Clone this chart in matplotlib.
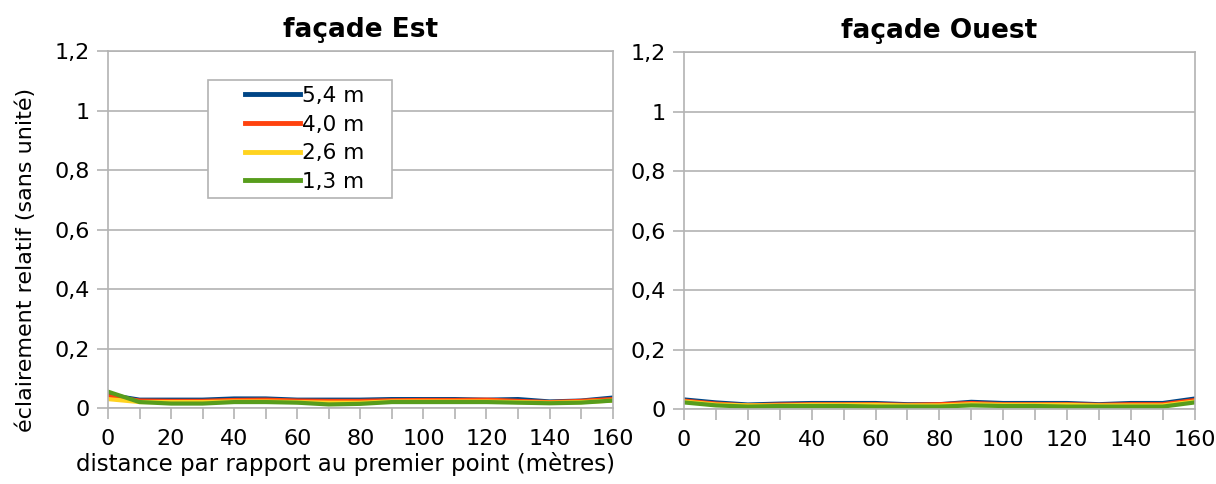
import matplotlib
matplotlib.use('Agg')
import matplotlib.pyplot as plt
from matplotlib.patches import Rectangle
from matplotlib.ticker import FuncFormatter, MultipleLocator

plt.rcParams['font.family'] = ['DejaVu Sans']

# distances (m)
x = [0, 10, 20, 30, 40, 50, 60, 70, 80, 90, 100, 110, 120, 130, 140, 150, 160]
hauteurs = ['5,4 m', '4,0 m', '2,6 m', '1,3 m']
couleurs = ['#004586', '#ff420e', '#ffd320', '#579d1c']

# façade Est
est_54 = [0.045, 0.028, 0.028, 0.028, 0.032, 0.032, 0.028, 0.028, 0.028, 0.030, 0.030, 0.030, 0.028, 0.030, 0.022, 0.025, 0.035]
est_40 = [0.040, 0.025, 0.024, 0.024, 0.027, 0.028, 0.025, 0.024, 0.024, 0.026, 0.027, 0.027, 0.028, 0.024, 0.020, 0.024, 0.030]
est_26 = [0.030, 0.020, 0.020, 0.020, 0.022, 0.022, 0.020, 0.018, 0.018, 0.022, 0.022, 0.022, 0.022, 0.020, 0.018, 0.020, 0.025]
est_13 = [0.055, 0.020, 0.015, 0.015, 0.020, 0.020, 0.018, 0.012, 0.014, 0.020, 0.020, 0.020, 0.020, 0.018, 0.016, 0.018, 0.025]

# façade Ouest
ouest_54 = [0.032, 0.022, 0.015, 0.018, 0.020, 0.020, 0.020, 0.016, 0.016, 0.024, 0.020, 0.020, 0.020, 0.016, 0.020, 0.020, 0.035]
ouest_40 = [0.028, 0.018, 0.012, 0.015, 0.016, 0.016, 0.016, 0.014, 0.016, 0.020, 0.016, 0.016, 0.016, 0.014, 0.016, 0.016, 0.030]
ouest_26 = [0.025, 0.015, 0.012, 0.012, 0.014, 0.014, 0.014, 0.012, 0.012, 0.016, 0.014, 0.014, 0.014, 0.012, 0.012, 0.012, 0.025]
ouest_13 = [0.022, 0.012, 0.008, 0.010, 0.010, 0.010, 0.008, 0.008, 0.008, 0.012, 0.010, 0.010, 0.008, 0.008, 0.008, 0.008, 0.022]

gris = '#b3b3b3'
virgule = FuncFormatter(lambda v, p: f'{v:g}'.replace('.', ','))

fig = plt.figure(figsize=(12.16, 4.84), dpi=100)
ax1 = fig.add_axes([0.0888, 0.157, 0.415, 0.737])
ax2 = fig.add_axes([0.5625, 0.155, 0.420, 0.737])

for ax, series, titre in [(ax1, [est_54, est_40, est_26, est_13], 'façade Est'),
                          (ax2, [ouest_54, ouest_40, ouest_26, ouest_13], 'façade Ouest')]:
    for y, c, lab in zip(series, couleurs, hauteurs):
        ax.plot(x, y, color=c, lw=3, label=lab)
    ax.set_xlim(0, 160)
    ax.set_ylim(0, 1.2)
    ax.xaxis.set_major_locator(MultipleLocator(20))
    ax.xaxis.set_minor_locator(MultipleLocator(10))
    ax.yaxis.set_major_locator(MultipleLocator(0.2))
    ax.xaxis.set_major_formatter(virgule)
    ax.yaxis.set_major_formatter(virgule)
    ax.grid(axis='y', color=gris, lw=1.2)
    ax.set_axisbelow(True)
    for s in ax.spines.values():
        s.set_color(gris)
        s.set_linewidth(1.2)
    ax.tick_params(which='both', color=gris, width=1.2, labelsize=16)
    ax.tick_params(axis='x', which='both', length=8, pad=7)
    ax.tick_params(axis='y', length=8, pad=5)
    ax.set_title(titre, fontsize=19, fontweight='bold', pad=10)

ax1.set_ylabel('éclairement relatif (sans unité)', fontsize=16)
ax1.yaxis.set_label_coords(-0.142, 0.415)
ax1.set_xlabel('distance par rapport au premier point (mètres)', fontsize=16.5)
ax1.xaxis.set_label_coords(0.47, -0.122)

# cadre de la légende
ax1.add_patch(Rectangle((0.198, 0.588), 0.364, 0.331, transform=ax1.transAxes,
                        facecolor='white', edgecolor=gris, lw=1.2, zorder=4))
leg = ax1.legend(loc='upper left', bbox_to_anchor=(0.262, 0.915), fontsize=15.5,
                 handlelength=2.6, handletextpad=0.05, labelspacing=0.4,
                 borderpad=0.2, borderaxespad=0, frameon=False)
leg.set_zorder(5)
for h in leg.get_lines():
    h.set_linewidth(3.5)

fig.savefig('out.png', dpi=100)
